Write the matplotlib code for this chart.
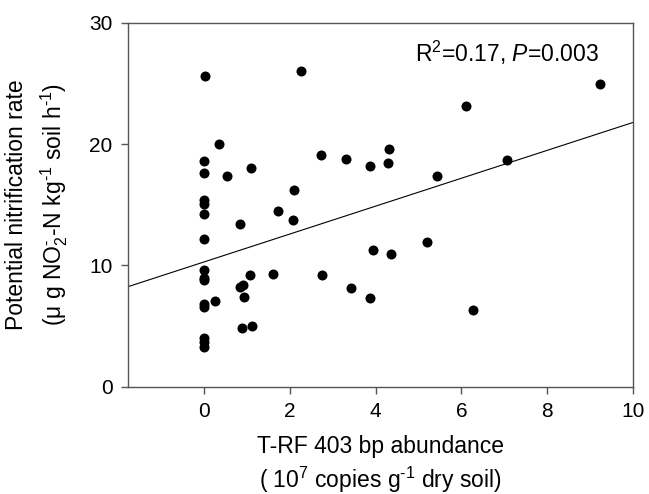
import numpy as np
import matplotlib
matplotlib.use('Agg')
import matplotlib.pyplot as plt

plt.rcParams['font.family'] = ['Liberation Sans', 'DejaVu Sans']
plt.rcParams['mathtext.fontset'] = 'custom'
plt.rcParams['mathtext.rm'] = 'Liberation Sans'
plt.rcParams['mathtext.it'] = 'Liberation Sans:italic'
plt.rcParams['mathtext.default'] = 'regular'

# T-RF 403 bp abundance (10^7 copies / g dry soil)
abundance = [0.02, 2.26, 0.34, 0.0, 0.0, 0.53, 1.10, 2.73, 3.30, 3.86,
             4.32, 4.29, 2.09, 0.0, 0.0, 5.44, 9.22, 6.11, 7.06, 0.0,
             0.0, 0.0, 0.0, 0.0, 0.0, 0.0, 0.0, 0.0, 0.0, 1.72,
             0.83, 2.07, 0.26, 0.83, 0.92, 1.08, 1.60, 2.75, 0.93, 0.88,
             1.12, 3.42, 3.86, 3.95, 4.36, 5.19, 6.26]
# potential nitrification rate
pnr = [25.6, 26.0, 20.0, 18.6, 17.6, 17.4, 18.0, 19.1, 18.8, 18.2,
       19.6, 18.4, 16.2, 15.4, 15.1, 17.4, 24.95, 23.1, 18.66, 14.2,
       12.15, 9.6, 9.0, 8.8, 6.8, 6.6, 4.05, 3.7, 3.3, 14.5,
       13.4, 13.7, 7.1, 8.25, 8.4, 9.2, 9.25, 9.2, 7.4, 4.8,
       5.0, 8.1, 7.3, 11.3, 10.9, 11.95, 6.3]

fit_intercept = 10.28
fit_slope = 1.15
xlim = (-1.77, 10)

hy = '\u2010'  # plain hyphen for superscripts, as in the original

fig = plt.figure(figsize=(6.49, 4.94), dpi=100)
ax = fig.add_axes([0.1972, 0.2172, 0.7781, 0.7368])

ax.scatter(abundance, pnr, s=52, color='black', zorder=3, linewidths=0)
xl = np.array(xlim)
ax.plot(xl, fit_intercept + fit_slope * xl, color='black', lw=0.8)

ax.set_xlim(*xlim)
ax.set_ylim(0, 30)
ax.set_xticks([0, 2, 4, 6, 8, 10])
ax.set_yticks([0, 10, 20, 30])

for s in ax.spines.values():
    s.set_color('#555555')
    s.set_linewidth(1.0)
ax.tick_params(direction='out', length=5, width=1.0, color='#555555',
               labelsize=15, top=False, right=False)
ax.tick_params(axis='x', pad=6)
ax.tick_params(axis='y', pad=6)

ax.set_xlabel('T-RF 403 bp abundance\n( 10$^7$ copies g$^{' + hy + '1}$ dry soil)',
              fontsize=16.5, labelpad=10, linespacing=1.3)
ax.set_ylabel('Potential nitrification rate\n(\u03bc g NO$_2^{' + hy + '}$-N kg$^{' + hy + '1}$ soil h$^{' + hy + '1}$)',
              fontsize=16.5, labelpad=14, linespacing=1.45)

ax.text(9.21, 26.77, r'R$^2$=0.17, $\it{P}$=0.003',
        ha='right', va='baseline', fontsize=16.5)

fig.savefig('out.png', dpi=100)
